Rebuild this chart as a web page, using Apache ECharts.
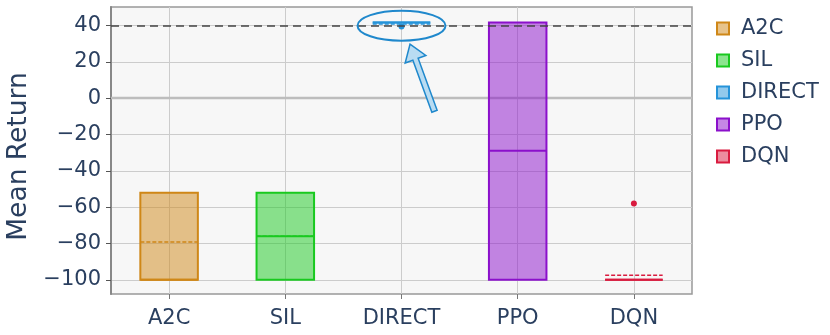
<!DOCTYPE html>
<html><head><meta charset="utf-8">
<script src="https://cdn.jsdelivr.net/npm/echarts@6/dist/echarts.min.js"></script>
<style>html,body{margin:0;padding:0;background:#fff}#c{width:830px;height:335px}</style>
</head><body><div id="c"></div>
<script>
const categories = ['A2C', 'SIL', 'DIRECT', 'PPO', 'DQN'];
const q1 = [-100, -100, 41.7, -100, -100];
const medians = [-100, -76, 41.7, -29, -100];
const q3 = [-52, -52, 41.7, 41.7, -100];
const means = [-79.2, -76, 40.8, null, -97.5];
const outliers = [[], [], [39.5], [], [-58]];
const colors = ['#cf8717', '#19c91f', '#2593d9', '#8b10cb', '#d91b3f'];
const yTicks = [-100, -80, -60, -40, -20, 0, 20, 40];
const threshold = 40;

const FONT = 'DejaVu Sans';
const TXT = '#2a3f5f';

function rgba(hex, a) {
  const n = parseInt(hex.slice(1), 16);
  return 'rgba(' + (n >> 16) + ',' + ((n >> 8) & 255) + ',' + (n & 255) + ',' + a + ')';
}

function makeRender(i) {
  const col = colors[i];
  return function (params, api) {
    const x = api.value(0);
    const lo = api.coord([x, api.value(1)]);
    const hi = api.coord([x, api.value(3)]);
    const med = api.coord([x, api.value(2)]);
    const w = api.size([1, 0])[0] * 0.495;
    const cx = lo[0];
    const children = [];
    children.push({
      type: 'rect',
      shape: { x: cx - w / 2, y: hi[1], width: w, height: lo[1] - hi[1] },
      style: { fill: rgba(col, 0.5), stroke: col, lineWidth: 2 }
    });
    children.push({
      type: 'line',
      shape: { x1: cx - w / 2, y1: med[1], x2: cx + w / 2, y2: med[1] },
      style: { stroke: col, lineWidth: 2 }
    });
    if (means[i] !== null) {
      const m = api.coord([x, means[i]]);
      children.push({
        type: 'line',
        shape: { x1: cx - w / 2, y1: m[1], x2: cx + w / 2, y2: m[1] },
        style: { stroke: col, lineWidth: 1.6, lineDash: [4, 2] }
      });
    }
    outliers[i].forEach(function (v) {
      const p = api.coord([x, v]);
      children.push({ type: 'circle', shape: { cx: p[0], cy: p[1], r: 3 }, style: { fill: col } });
    });
    return { type: 'group', children: children };
  };
}

const series = categories.map(function (name, i) {
  return {
    name: name,
    type: 'custom',
    renderItem: makeRender(i),
    itemStyle: { color: rgba(colors[i], 0.5), borderColor: colors[i], borderWidth: 2 },
    data: [[i, q1[i], medians[i], q3[i]]],
    z: 3
  };
});
// zero line (under the boxes)
series.push({
  type: 'line', data: [], z: 1, silent: true,
  markLine: {
    silent: true, symbol: 'none', animation: false, z: 1,
    label: { show: false },
    data: [{ yAxis: 0, lineStyle: { color: '#bdbdbd', width: 2.3, type: 'solid' } }]
  }
});
// threshold line (over the boxes)
series.push({
  type: 'line', data: [], z: 10, silent: true,
  markLine: {
    silent: true, symbol: 'none', animation: false, z: 10,
    label: { show: false },
    data: [{ yAxis: threshold, lineStyle: { color: '#444', width: 1.6, type: [8, 5] } }]
  }
});

const chart = echarts.init(document.getElementById('c'), null, { renderer: 'canvas' });
chart.setOption({
  animation: false,
  backgroundColor: '#fff',
  textStyle: { fontFamily: FONT },
  grid: {
    left: 111, top: 7, right: 138, bottom: 41,
    outerBoundsMode: 'none', containLabel: false,
    show: true, backgroundColor: '#f7f7f7', borderColor: '#999', borderWidth: 1.5
  },
  legend: {
    orient: 'vertical', left: 716, top: 17, padding: 0,
    itemWidth: 12, itemHeight: 12, itemGap: 9,
    icon: 'rect',
    textStyle: { fontSize: 21, color: TXT, fontFamily: FONT, lineHeight: 21, padding: [2, 0, 0, 7] },
    data: categories.map(function (c, i) {
      return { name: c, itemStyle: { color: rgba(colors[i], 0.5), borderColor: colors[i], borderWidth: 2 } };
    })
  },
  xAxis: {
    type: 'category', data: categories, boundaryGap: true,
    axisLine: { show: false, onZero: false },
    axisTick: { show: true, alignWithLabel: true, length: 5, lineStyle: { color: '#777' } },
    axisLabel: { fontSize: 21, color: TXT, fontFamily: FONT, margin: 14 },
    splitLine: { show: true, alignWithLabel: true, lineStyle: { color: '#ccc', width: 1 } }
  },
  yAxis: {
    type: 'value', min: -107.8, max: 50.2,
    name: 'Mean Return', nameLocation: 'middle', nameGap: 77,
    nameTextStyle: { fontSize: 26.5, color: TXT, fontFamily: FONT, padding: [0, 12, 0, 0] },
    axisLine: { show: true, lineStyle: { color: '#888', width: 2 } },
    axisTick: { show: true, length: 5, customValues: yTicks, lineStyle: { color: '#555' } },
    axisLabel: {
      fontSize: 21, color: TXT, fontFamily: FONT, margin: 10, customValues: yTicks,
      padding: [4, 0, 0, 0],
      formatter: function (v) { return v < 0 ? '\u2212' + Math.abs(v) : String(v); }
    },
    splitLine: { show: true, lineStyle: { color: '#ccc', width: 1 } }
  },
  series: series
});

// annotation: ellipse around DIRECT and arrow pointing to it
const p = chart.convertToPixel({ gridIndex: 0 }, [2, 41]);
const ell = { cx: p[0], cy: p[1] + 2, rx: 44, ry: 15 };
const tip = [p[0] + 8.5, p[1] + 20.5];
const tail = [p[0] + 33, p[1] + 87.5];
const dx = tip[0] - tail[0], dy = tip[1] - tail[1];
const L = Math.sqrt(dx * dx + dy * dy);
const ux = dx / L, uy = dy / L, nx = -uy, ny = ux;
const hl = 16, hw = 11, sw = 2.8;
const hb = [tip[0] - ux * hl, tip[1] - uy * hl];
const arrowPts = [
  tip,
  [hb[0] + nx * hw, hb[1] + ny * hw],
  [hb[0] + nx * sw, hb[1] + ny * sw],
  [tail[0] + nx * sw, tail[1] + ny * sw],
  [tail[0] - nx * sw, tail[1] - ny * sw],
  [hb[0] - nx * sw, hb[1] - ny * sw],
  [hb[0] - nx * hw, hb[1] - ny * hw]
];
chart.setOption({
  graphic: [
    { type: 'ellipse', shape: ell, style: { fill: 'none', stroke: '#1f88cc', lineWidth: 2 }, z: 100 },
    { type: 'polygon', shape: { points: arrowPts }, style: { fill: '#b9dcf2', stroke: '#1f88cc', lineWidth: 1.5 }, z: 100 }
  ]
});
</script>
</body></html>
